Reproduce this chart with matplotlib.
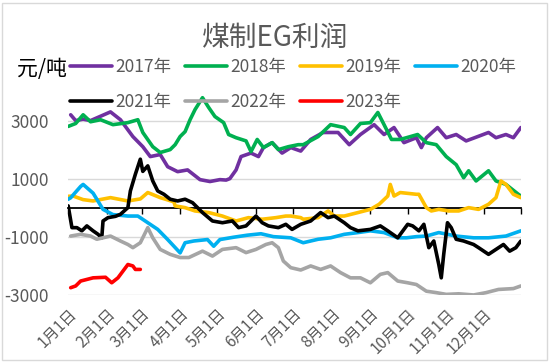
import matplotlib
matplotlib.use("Agg")
import matplotlib.pyplot as plt
from matplotlib.patches import Rectangle

plt.rcParams['font.family'] = ['Noto Sans CJK SC', 'DejaVu Sans']

# day of year (0 = 1月1日) and profit values
d2017 = [2, 6, 12, 18, 26, 34, 42, 52, 60, 66, 74, 80, 88, 96, 106, 114, 122, 127, 130, 135, 139, 147,
         153, 157, 164, 172, 179, 187, 195, 205, 217, 226, 235, 246, 254, 262, 270, 280, 284, 288, 297,
         304, 312, 320, 330, 338, 344, 352, 358, 364]
v2017 = [3200, 3000, 3050, 3000, 3150, 3300, 3030, 2450, 2100, 1760, 1830, 1410, 1240, 1300, 965, 900,
         965, 950, 1000, 1300, 1760, 1880, 1760, 2070, 2240, 1880, 2070, 1950, 2350, 2590, 2590, 2170,
         2520, 2860, 2520, 2760, 2240, 2410, 2070, 2410, 2760, 2410, 2520, 2300, 2460, 2590, 2410, 2520,
         2410, 2760]

d2018 = [0, 6, 12, 18, 26, 36, 48, 56, 60, 68, 74, 82, 86, 90, 94, 98, 102, 108, 113, 118, 125, 129,
         135, 143, 147, 152, 157, 164, 169, 177, 185, 189, 201, 211, 222, 227, 235, 243, 249, 254, 260,
         267, 272, 281, 288, 296, 304, 312, 318, 322, 328, 338, 344, 352, 362, 364]
v2018 = [2800, 2900, 3200, 2960, 3030, 2860, 2930, 3030, 2590, 2100, 1900, 2000, 2170, 2450, 2620, 3030,
         3380, 3790, 3450, 3140, 2930, 2520, 2410, 2300, 1930, 2350, 2070, 2240, 2000, 2100, 2170, 2170,
         2450, 2860, 2760, 2520, 2900, 2930, 3280, 2860, 2350, 2350, 2410, 2520, 2240, 2170, 1760, 1480,
         1030, 1270, 920, 1270, 920, 800, 460, 400]

d2019 = [0, 4, 12, 20, 34, 48, 58, 64, 74, 85, 86, 94, 102, 113, 124, 135, 145, 156, 167, 175, 179, 187,
         189, 201, 209, 214, 222, 233, 243, 250, 257, 259, 262, 267, 280, 282, 288, 292, 298, 306, 314,
         322, 330, 338, 344, 348, 352, 358, 364]
v2019 = [390, 400, 276, 230, 345, 230, 300, 520, 345, 200, 60, 0, -115, -170, -290, -460, -345, -400,
         -345, -290, -290, -345, -400, -345, -115, -290, -290, -170, -60, 115, 400, 800, 400, 520, 460,
         460, 0, -115, -60, -115, -115, 0, -60, 115, 345, 920, 800, 460, 345]

d2020 = [0, 2, 10, 12, 18, 20, 28, 36, 48, 56, 64, 72, 80, 85, 90, 94, 101, 112, 117, 122, 133, 144, 155,
         165, 179, 189, 201, 211, 222, 233, 243, 254, 265, 272, 280, 288, 298, 312, 326, 338, 352, 364]
v2020 = [290, 340, 730, 800, 575, 500, -60, -240, -290, -290, -520, -750, -1100, -1330, -1560, -1210,
         -1150, -1100, -1330, -1100, -1020, -950, -900, -1000, -1040, -1210, -1090, -1040, -920, -860,
         -800, -860, -1040, -1040, -1000, -980, -860, -980, -1040, -1040, -980, -800]

d2021 = [0, 3, 7, 11, 15, 20, 24, 27, 28, 32, 38, 42, 48, 50, 54, 58, 60, 64, 68, 72, 77, 82, 88, 94,
         100, 108, 116, 124, 132, 137, 143, 151, 156, 161, 169, 175, 180, 187, 195, 203, 209, 214, 222,
         227, 233, 243, 251, 257, 265, 273, 277, 282, 286, 290, 294, 298, 300, 302, 305, 308, 312, 318,
         326, 330, 338, 344, 350, 355, 360, 364]
v2021 = [60, -690, -690, -800, -630, -800, -920, -1040, -460, -345, -300, -230, 0, 575, 1150, 1670, 1250,
         1440, 920, 575, 460, 290, 230, 290, 170, -170, -460, -520, -460, -690, -630, -290, -520, -630,
         -690, -575, -750, -575, -460, -170, -345, -290, -520, -690, -800, -750, -630, -800, -1040, -575,
         -630, -800, -575, -1380, -1150, -1960, -2420, -1600, -520, -690, -1090, -1150, -1270, -1380,
         -1610, -1440, -1270, -1500, -1380, -1150]

d2022 = [2, 10, 18, 23, 28, 34, 42, 48, 52, 58, 64, 68, 74, 82, 90, 97, 108, 116, 124, 135, 143, 151,
         159, 164, 169, 173, 179, 187, 195, 203, 211, 219, 227, 235, 243, 251, 257, 265, 273, 280, 288,
         296, 304, 314, 326, 336, 346, 358, 364]
v2022 = [-980, -920, -980, -1090, -1040, -980, -1150, -1270, -1380, -1210, -690, -1040, -1440, -1610,
         -1720, -1720, -1500, -1670, -1440, -1380, -1550, -1440, -1270, -1210, -1380, -1840, -2070, -2150,
         -2010, -2130, -2010, -2240, -2420, -2420, -2590, -2300, -2240, -2530, -2590, -2650, -2880, -2930,
         -2990, -2970, -3010, -2930, -2820, -2790, -2700]

d2023 = [2, 6, 10, 20, 30, 35, 40, 44, 48, 52, 54, 58]
v2023 = [-2760, -2700, -2530, -2420, -2400, -2590, -2420, -2190, -1960, -2010, -2130, -2130]

years = ["2017年", "2018年", "2019年", "2020年", "2021年", "2022年", "2023年"]
colors = ["#7030A0", "#00B050", "#FFC000", "#00B0F0", "#000000", "#A5A5A5", "#FF0000"]
month_days = [0, 31, 59, 90, 120, 151, 181, 212, 243, 273, 304, 334]
month_labels = [f"{m}月1日" for m in range(1, 13)]

fig = plt.figure(figsize=(5.5, 3.62), dpi=100)
ax = fig.add_axes([0.124, 0.186, 0.823, 0.561])

series = [(d2017, v2017), (d2018, v2018), (d2019, v2019), (d2020, v2020),
          (d2021, v2021), (d2022, v2022), (d2023, v2023)]
handles = []
for (d, v), lab, c in zip(series, years, colors):
    h, = ax.plot(d, v, color=c, lw=2.6, label=lab, solid_capstyle='round')
    handles.append(h)

ax.set_xlim(0, 364)
ax.set_ylim(-3000, 4000)
ax.set_yticks([-3000, -1000, 1000, 3000])
ax.set_yticklabels(["-3000", "-1000", "1000", "3000"])
ax.yaxis.grid(True, color="#d9d9d9", lw=1)
ax.set_axisbelow(True)
for s in ax.spines.values():
    s.set_visible(False)
ax.tick_params(axis='y', length=0, labelsize=12.5, labelcolor="#595959", pad=14)
ax.set_xticks(month_days)
ax.set_xticklabels(month_labels, rotation=45, ha='right', rotation_mode='anchor')
ax.tick_params(axis='x', length=0, labelsize=11, labelcolor="#595959", pad=8)

# zero line with month tick marks
sec = ax.secondary_xaxis(3 / 7)
sec.set_xticks(month_days + [364])
sec.set_xticklabels([])
sec.tick_params(axis='x', direction='out', length=4, width=1, color='black')
sec.spines['bottom'].set_linewidth(1.3)
sec.spines['bottom'].set_color('black')

fig.text(0.5, 0.895, "煤制EG利润", ha='center', va='center', fontsize=20, color="#595959")
fig.text(0.03, 0.81, "元/吨", ha='left', va='center', fontsize=15, color='black')

order = [0, 4, 1, 5, 2, 6, 3]
fig.legend([handles[i] for i in order], [years[i] for i in order], ncol=4,
           loc='upper left', bbox_to_anchor=(0.128, 0.84), frameon=False,
           fontsize=12.5, labelcolor="#595959", handlelength=2.4, handletextpad=0.2,
           columnspacing=0.8, labelspacing=1.0, borderaxespad=0, borderpad=0)

fig.patches.append(Rectangle((0.004, 0.006), 0.99, 0.986, transform=fig.transFigure,
                             fill=False, edgecolor="#d9d9d9", lw=1))

fig.savefig("out.png", dpi=100)
